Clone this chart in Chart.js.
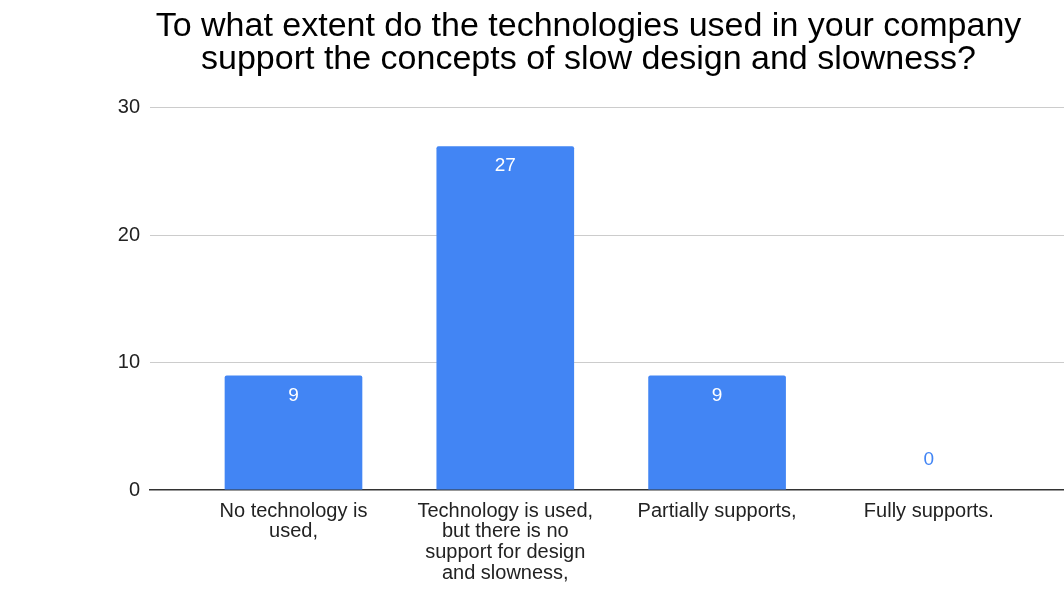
<!DOCTYPE html>
<html>
<head>
<meta charset="utf-8">
<script src="https://cdn.jsdelivr.net/npm/chart.js@4"></script>
<style>
  body { margin: 0; background: #fff; }
  #wrap { width: 1064px; height: 605px; }
</style>
</head>
<body>
<div id="wrap"><canvas id="barChart"></canvas></div>
<script>
// answers and counts
const categories = [
    ['No technology is', 'used,'],
    ['Technology is used,', 'but there is no', 'support for design', 'and slowness,'],
    ['Partially supports,'],
    ['Fully supports.']
];
const counts = [9, 27, 9, 0];
const yTicks = [0, 10, 20, 30];

const BLUE = '#4285F4';
const FONT = "'Liberation Sans', Arial, sans-serif";

// value labels: inside the top of the bar, or above it when the bar is too short
const valueLabels = {
    id: 'valueLabels',
    afterDatasetsDraw(chart) {
        const ctx = chart.ctx;
        const meta = chart.getDatasetMeta(0);
        ctx.save();
        ctx.font = '19px ' + FONT;
        ctx.textAlign = 'center';
        ctx.textBaseline = 'middle';
        meta.data.forEach((bar, i) => {
            const v = counts[i];
            const h = bar.base - bar.y;
            if (h > 30) {
                ctx.fillStyle = '#fff';
                ctx.fillText(String(v), bar.x, bar.y + 20);
            } else {
                ctx.fillStyle = BLUE;
                ctx.fillText(String(v), bar.x, bar.y - 30);
            }
        });
        ctx.restore();
    }
};

const barChart = document.getElementById('barChart');

new Chart(barChart, {
    type: 'bar',
    data: {
        datasets: [
            {
                label: 'Answers',
                data: counts.map((v, i) => ({ x: i, y: v })),
                backgroundColor: BLUE,
                borderRadius: { topLeft: 2, topRight: 2 },
                borderSkipped: 'bottom',
                categoryPercentage: 1,
                barPercentage: 0.65
            }
        ]
    },
    options: {
        responsive: true,
        maintainAspectRatio: false,
        animation: false,
        layout: { padding: { left: 113, right: 0, top: 0, bottom: 0 } },
        plugins: {
            legend: { display: false },
            tooltip: { enabled: false },
            title: {
                display: true,
                text: [
                    'To what extent do the technologies used in your company',
                    'support the concepts of slow design and slowness?'
                ],
                color: '#000',
                font: { family: FONT, size: 34, weight: 'normal', lineHeight: 0.97 },
                padding: { top: 10, bottom: 32 }
            }
        },
        scales: {
            x: {
                type: 'linear',
                offset: false,
                min: -0.6775,
                max: 3.638,
                afterBuildTicks(scale) {
                    scale.ticks = categories.map((c, i) => ({ value: i }));
                },
                afterFit(scale) {
                    scale.height = 115;
                },
                grid: { display: false },
                border: { display: true, color: '#333', width: 1.5 },
                ticks: {
                    autoSkip: false,
                    maxRotation: 0,
                    padding: 3,
                    color: '#222',
                    font: { family: FONT, size: 20, lineHeight: 1.03 },
                    callback: (v) => categories[v]
                }
            },
            y: {
                min: 0,
                max: 30,
                afterBuildTicks(scale) {
                    scale.ticks = yTicks.map(v => ({ value: v }));
                },
                afterFit(scale) {
                    scale.width = 37;
                },
                border: { display: false },
                grid: {
                    drawTicks: false,
                    color: (c) => c.tick && c.tick.value === 0 ? 'rgba(0,0,0,0)' : '#cccccc',
                    lineWidth: 1
                },
                ticks: {
                    padding: 10,
                    color: '#222',
                    font: { family: FONT, size: 20 }
                }
            }
        }
    },
    plugins: [valueLabels]
});
</script>
</body>
</html>
